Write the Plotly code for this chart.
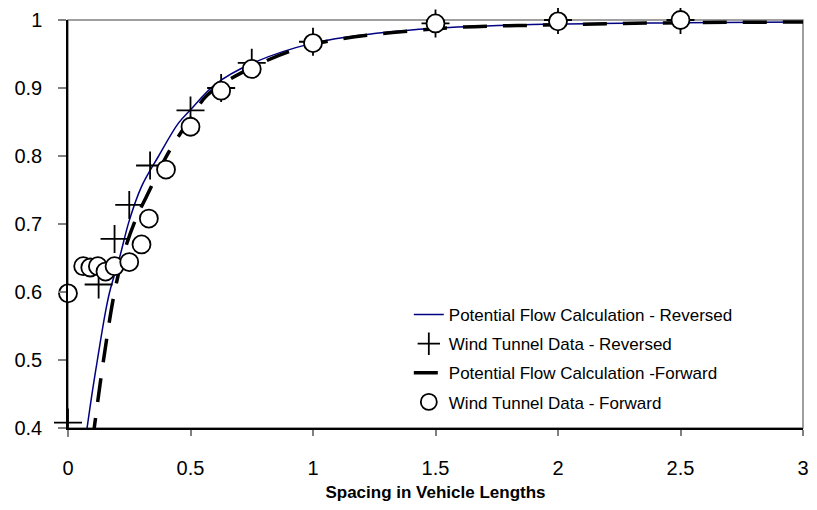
import plotly.graph_objects as go

# Potential flow calculation - reversed (solid navy curve)
pf_rev_x = [0.07, 0.10, 0.12, 0.15, 0.17, 0.21, 0.25, 0.30, 0.37, 0.45, 0.50, 0.60, 0.75, 1.00, 1.25, 1.50, 2.00, 2.50, 3.00]
pf_rev_y = [0.38, 0.455, 0.50, 0.565, 0.60, 0.65, 0.705, 0.755, 0.80, 0.848, 0.868, 0.905, 0.936, 0.966, 0.980, 0.988, 0.994, 0.996, 0.997]

# Wind tunnel data - reversed (+ markers)
wt_rev_x = [0.0, 0.125, 0.19, 0.25, 0.335, 0.50, 0.625, 0.75, 1.0, 1.5, 2.0, 2.5]
wt_rev_y = [0.408, 0.611, 0.678, 0.728, 0.786, 0.867, 0.900, 0.937, 0.968, 0.995, 1.000, 1.000]

# Potential flow calculation - forward (dashed black curve)
pf_fwd_x = [0.10, 0.107, 0.145, 0.19, 0.23, 0.28, 0.32, 0.41, 0.50, 0.57, 0.75, 1.00, 1.50, 2.00, 2.50, 3.00]
pf_fwd_y = [0.38, 0.40, 0.50, 0.60, 0.66, 0.71, 0.74, 0.805, 0.855, 0.89, 0.930, 0.964, 0.987, 0.993, 0.996, 0.997]

# Wind tunnel data - forward (circle markers)
wt_fwd_x = [0.0, 0.062, 0.091, 0.122, 0.153, 0.19, 0.25, 0.30, 0.33, 0.40, 0.50, 0.625, 0.75, 1.0, 1.5, 2.0, 2.5]
wt_fwd_y = [0.598, 0.638, 0.636, 0.638, 0.630, 0.638, 0.644, 0.670, 0.708, 0.780, 0.843, 0.896, 0.928, 0.966, 0.995, 0.998, 1.000]

x_ticks = [0, 0.5, 1, 1.5, 2, 2.5, 3]
x_tick_labels = ["0", "0.5", "1", "1.5", "2", "2.5", "3"]
y_ticks = [0.4, 0.5, 0.6, 0.7, 0.8, 0.9, 1.0]
y_tick_labels = ["0.4", "0.5", "0.6", "0.7", "0.8", "0.9", "1"]

FONT = "Liberation Sans, Arial, sans-serif"

fig = go.Figure()
fig.add_trace(go.Scatter(
    x=pf_rev_x, y=pf_rev_y, mode="lines", line_shape="spline",
    line=dict(color="#000080", width=1.5),
    name="Potential Flow Calculation - Reversed", legendgroup="a"))
fig.add_trace(go.Scatter(
    x=wt_rev_x, y=wt_rev_y, mode="markers", cliponaxis=False,
    marker=dict(symbol="cross-thin", size=20, color="black",
                line=dict(color="black", width=1.8)),
    name="Wind Tunnel Data - Reversed", legendgroup="b"))
fig.add_trace(go.Scatter(
    x=pf_fwd_x, y=pf_fwd_y, mode="lines", line_shape="spline",
    line=dict(color="black", width=3.5, dash="24px,16px"),
    name="Potential Flow Calculation -Forward", legendgroup="c"))
fig.add_trace(go.Scatter(
    x=wt_fwd_x, y=wt_fwd_y, mode="markers", cliponaxis=False,
    marker=dict(symbol="circle", size=18, color="white",
                line=dict(color="black", width=1.8)),
    name="Wind Tunnel Data - Forward", legendgroup="d"))

# the page body has an 8px default margin on every side, so the figure is sized to fit the window
fig.update_layout(
    width=801, height=494,
    margin=dict(l=60, r=6, t=12, b=74),
    paper_bgcolor="white", plot_bgcolor="white",
    font=dict(family=FONT, color="black"),
    showlegend=True,
    legend=dict(x=0.4637, y=0.321, xanchor="left", yanchor="top",
                bgcolor="rgba(0,0,0,0)", borderwidth=0,
                font=dict(size=17, family=FONT),
                itemsizing="trace", tracegroupgap=4),
    shapes=[dict(type="rect", xref="paper", yref="paper", x0=0, x1=1, y0=0, y1=1,
                 line=dict(color="#808080", width=1.5), layer="below")],
)
fig.update_xaxes(
    range=[0, 3], tickvals=x_ticks, ticktext=x_tick_labels, automargin=False,
    ticklabeloverflow="allow",
    showgrid=False, zeroline=False, showline=True, linecolor="black", linewidth=1.5,
    ticks="outside", ticklen=6, tickcolor="#808080", tickwidth=1.5,
    tickfont=dict(size=20, family=FONT), ticklabelstandoff=15,
    title=dict(text="<b>Spacing in Vehicle Lengths</b>", font=dict(size=17, family=FONT), standoff=18),
)
fig.update_yaxes(
    range=[0.4, 1.0], tickvals=y_ticks, ticktext=y_tick_labels, automargin=False,
    ticklabeloverflow="allow",
    showgrid=False, zeroline=False, showline=True, linecolor="black", linewidth=1.5,
    ticks="outside", ticklen=8, tickcolor="#808080", tickwidth=1.5,
    tickfont=dict(size=20, family=FONT), ticklabelstandoff=12,
)

fig.write_html("out.html")
